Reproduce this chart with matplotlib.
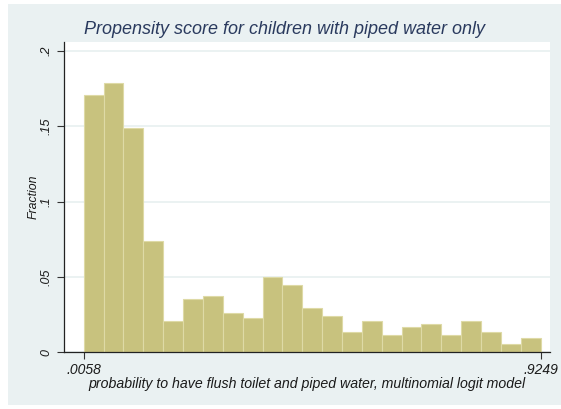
import numpy as np
import matplotlib.pyplot as plt
from matplotlib.patches import Rectangle

# histogram of propensity scores, 23 bins between min and max
x_min, x_max = 0.0058, 0.9249
fractions = [0.171, 0.179, 0.149, 0.0735, 0.0204, 0.0354, 0.0372, 0.0259,
             0.0224, 0.0498, 0.0443, 0.0295, 0.0239, 0.0133, 0.0206, 0.0111,
             0.0166, 0.0184, 0.0111, 0.0206, 0.0133, 0.0055, 0.0095]
y_ticks = [0, 0.05, 0.1, 0.15, 0.2]
y_ticklabels = ['0', '.05', '.1', '.15', '.2']
x_ticks = [x_min, x_max]
x_ticklabels = ['.0058', '.9249']

title = 'Propensity score for children with piped water only'
xlabel = 'probability to have flush toilet and piped water, multinomial logit model'
ylabel = 'Fraction'

plt.rcParams['font.family'] = ['Liberation Sans', 'DejaVu Sans']
plt.rcParams['font.style'] = 'italic'

panel = '#eaf1f2'
bar_color = '#c8c27e'
text_color = '#1a1a1a'

fig = plt.figure(figsize=(5.61, 4.09), dpi=100)
fig.patch.set_facecolor('white')
fig.patches.append(Rectangle((8 / 561, 4 / 409), 1, 401 / 409,
                             transform=fig.transFigure, facecolor=panel,
                             edgecolor='none', zorder=-5))

ax = fig.add_axes([64 / 561, 57 / 409, 486 / 561, 310 / 409])
ax.set_facecolor('white')

n_bins = len(fractions)
edges = np.linspace(x_min, x_max, n_bins + 1)
width = edges[1] - edges[0]
ax.bar(edges[:-1], fractions, width=width, align='edge', color=bar_color,
       edgecolor='#dedaa6', linewidth=0.8, zorder=2)

ax.set_xlim(-0.0338, 0.9436)
ax.set_ylim(0, 0.206)

ax.set_yticks(y_ticks)
ax.set_yticklabels(y_ticklabels, rotation=90, va='center', fontsize=9,
                   color=text_color)
ax.set_xticks(x_ticks)
ax.set_xticklabels(x_ticklabels, fontsize=10, color=text_color)
ax.tick_params(axis='both', length=5, width=0.8, color='#333333', pad=3)
ax.grid(axis='y', color='#e8f0f0', linewidth=1.2, zorder=1)
ax.set_axisbelow(True)

for side in ['top', 'right']:
    ax.spines[side].set_visible(False)
for side in ['left', 'bottom']:
    ax.spines[side].set_color('#222222')
    ax.spines[side].set_linewidth(0.9)

ax.set_xlabel(xlabel, fontsize=10.2, color=text_color, labelpad=0)
ax.set_ylabel(ylabel, fontsize=8.8, color=text_color, labelpad=1)
fig.text(285 / 561, 1 - 30 / 409, title, ha='center', va='center',
         fontsize=13, color='#2a3a5e')

fig.savefig('out.png', dpi=100)
